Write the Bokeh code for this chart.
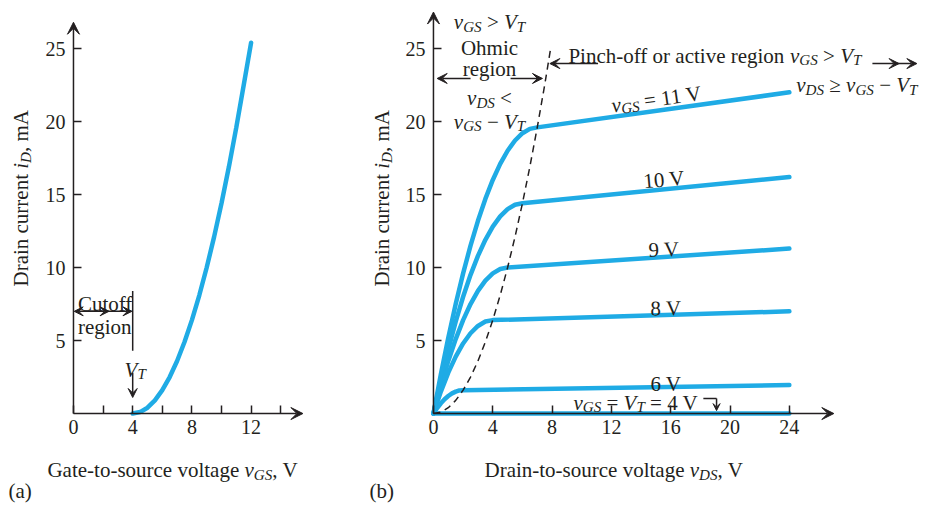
import math
from bokeh.plotting import figure
from bokeh.layouts import row
from bokeh.models import Range1d, FixedTicker, Label, Arrow, VeeHead
from bokeh.embed import file_html
from bokeh.resources import INLINE

# ---------------- data ----------------
# (a) transfer characteristic
vgs_transfer = [4, 4.5, 5, 5.5, 6, 6.5, 7, 7.5, 8, 8.5, 9, 9.5, 10, 10.5, 11, 11.5, 12]
id_transfer = [0, 0.1, 0.4, 0.9, 1.6, 2.5, 3.6, 4.9, 6.4, 8.1, 10.0, 12.1, 14.4, 16.9, 19.6, 22.5, 25.4]

# (b) output characteristics
vds_11 = [0, 0.5, 1, 1.5, 2, 2.5, 3, 3.5, 4, 4.5, 5, 5.5, 6, 6.5, 7, 24]
id_11 = [0, 2.7, 5.2, 7.5, 9.6, 11.5, 13.2, 14.7, 16.0, 17.1, 18.0, 18.7, 19.2, 19.5, 19.6, 22.0]
vds_10 = [0, 0.5, 1, 1.5, 2, 2.5, 3, 3.5, 4, 4.5, 5, 5.5, 6, 24]
id_10 = [0, 2.3, 4.4, 6.3, 8.0, 9.5, 10.8, 11.9, 12.8, 13.5, 14.0, 14.3, 14.4, 16.2]
vds_9 = [0, 0.5, 1, 1.5, 2, 2.5, 3, 3.5, 4, 4.5, 5, 24]
id_9 = [0, 1.9, 3.6, 5.1, 6.4, 7.5, 8.4, 9.1, 9.6, 9.9, 10.0, 11.3]
vds_8 = [0, 0.5, 1, 1.5, 2, 2.5, 3, 3.5, 4, 24]
id_8 = [0, 1.5, 2.8, 3.9, 4.8, 5.5, 6.0, 6.3, 6.4, 7.0]
vds_6 = [0, 0.25, 0.5, 0.75, 1, 1.25, 1.5, 1.75, 2, 24]
id_6 = [0, 0.38, 0.7, 0.98, 1.2, 1.38, 1.5, 1.58, 1.6, 1.95]
vds_4 = [0, 24]
id_4 = [0, 0]
vds_edge = [0, 0.5, 1, 1.5, 2, 2.5, 3, 3.5, 4, 4.5, 5, 5.5, 6, 6.5, 7, 7.5, 7.9]
id_edge = [0, 0.1, 0.4, 0.9, 1.6, 2.5, 3.6, 4.9, 6.4, 8.1, 10.0, 12.1, 14.4, 16.9, 19.6, 22.5, 25.0]

# ticks
xticks_a = [0, 4, 8, 12]
xminor_a = [2, 6, 10, 14]
xticks_b = [0, 4, 8, 12, 16, 20, 24]
yticks = [5, 10, 15, 20, 25]

# ---------------- styling ----------------
INK = "#231f20"
BLUE = "#1fabe5"
FONT = "Liberation Serif"
FS = 21
TICK_FS = "20px"

# Times metrics (per 1000 em) used to lay out mixed italic / subscript text
W_R = {' ': 250, ',': 250, '-': 333, '(': 333, ')': 333, '<': 564, '>': 564, '=': 564,
       '\u2265': 549, '\u2212': 564, '0': 500, '1': 500, '2': 500, '3': 500, '4': 500,
       '5': 500, '6': 500, '7': 500, '8': 500, '9': 500,
       'A': 722, 'C': 667, 'D': 722, 'G': 722, 'O': 722, 'P': 556, 'V': 722, 'T': 611,
       'a': 444, 'b': 500, 'c': 444, 'e': 444, 'f': 333, 'g': 500, 'h': 500, 'i': 278,
       'l': 278, 'm': 778, 'n': 500, 'o': 500, 'r': 333, 's': 389, 't': 278, 'u': 500,
       'v': 500}
W_I = {'v': 444, 'i': 278, 'G': 722, 'S': 500, 'D': 722, 'T': 556, 'V': 611, ' ': 250}
SUB = 0.72


def tw(s, kind):
    table = W_I if kind in ('i', 's') else W_R
    return sum(table.get(c, 500) for c in s) / 1000.0


def rich(p, x, y, parts, size=FS, angle=0.0, align='left'):
    widths = []
    for t, k in parts:
        fs = size * SUB if k == 's' else size
        widths.append(tw(t, k) * fs)
    total = sum(widths)
    d = {'left': 0.0, 'center': -total / 2.0, 'right': -total}[align]
    ca, sa = math.cos(angle), math.sin(angle)
    for (t, k), w in zip(parts, widths):
        fs = size * SUB if k == 's' else size
        lead = len(t) - len(t.lstrip(' '))
        dd = d + lead * 0.25 * fs
        drop = 0.22 * size if k == 's' else 0.0
        ox = dd * ca + drop * sa
        oy = dd * sa - drop * ca
        txt = t.strip(' ')
        if txt:
            p.add_layout(Label(x=x, y=y, x_offset=ox, y_offset=oy, text=txt, angle=angle,
                               text_font=FONT, text_font_size=f"{fs:.1f}px",
                               text_font_style='italic' if k in ('i', 's') else 'normal',
                               text_color=INK, text_baseline='alphabetic', text_align='left'))
        d += w


def arrow(p, x0, y0, x1, y1, size=10, width=1.5):
    p.add_layout(Arrow(x_start=x0, y_start=y0, x_end=x1, y_end=y1, line_color=INK,
                       line_width=width,
                       end=VeeHead(size=size, fill_color=INK, line_color=INK, line_width=1)))


def make_fig(width, x0, x1, xt, xm):
    p = figure(width=width, height=504, x_range=Range1d(x0, x1), y_range=Range1d(-6.23, 28.29),
               output_backend="svg", toolbar_location=None, min_border=0)
    p.outline_line_color = None
    p.grid.visible = False
    p.border_fill_color = "white"
    p.background_fill_color = "white"
    for ax in (p.xaxis[0], p.yaxis[0]):
        ax.fixed_location = 0
        ax.axis_line_color = None
        ax.major_tick_in = 8
        ax.major_tick_out = 0
        ax.minor_tick_in = 8
        ax.minor_tick_out = 0
        ax.major_tick_line_color = INK
        ax.minor_tick_line_color = INK
        ax.major_tick_line_width = 1.5
        ax.minor_tick_line_width = 1.5
        ax.major_label_text_font = FONT
        ax.major_label_text_font_size = TICK_FS
        ax.major_label_text_color = INK
    p.xaxis.ticker = FixedTicker(ticks=xt, minor_ticks=xm)
    p.yaxis.ticker = FixedTicker(ticks=yticks, minor_ticks=[])
    p.xaxis.major_label_standoff = 6
    p.yaxis.major_label_standoff = 8
    return p


# ---------------- panel (a) ----------------
pa = make_fig(360, -4.93, 19.39, xticks_a, xminor_a)
pa.line(vgs_transfer, id_transfer, line_color=BLUE, line_width=4.5, line_cap="round")
arrow(pa, 0, 0, 0, 26.8, size=12)
arrow(pa, 0, 0, 15.5, 0, size=12)

# cutoff region annotation
pa.segment(x0=[4], y0=[4.3], x1=[4], y1=[8.4], line_color=INK, line_width=1.5)
arrow(pa, 2.0, 7.0, 0.05, 7.0, size=9)
arrow(pa, 1.0, 7.0, 2.4, 7.0, size=9)
arrow(pa, 2.3, 7.0, 3.95, 7.0, size=9)
rich(pa, 0.3, 7.5, [("Cutoff", 'r')])
rich(pa, 0.3, 5.9, [("region", 'r')])
rich(pa, 3.45, 3.0, [("V", 'i'), ("T", 's')])
arrow(pa, 4, 2.8, 4, 1.1, size=9)

rich(pa, -3.55, 8.7, [("Drain current ", 'r'), ("i", 'i'), ("D", 's'), (", mA", 'r')],
     angle=math.pi / 2)
rich(pa, -1.76, -3.9, [("Gate-to-source voltage ", 'r'), ("v", 'i'), ("GS", 's'), (", V", 'r')])
rich(pa, -4.39, -5.3, [("(a)", 'r')])

# ---------------- panel (b) ----------------
pb = make_fig(565, -4.92, 33.18, xticks_b, [])
for vx, iy in ((vds_4, id_4), (vds_6, id_6), (vds_8, id_8), (vds_9, id_9),
               (vds_10, id_10), (vds_11, id_11)):
    pb.line(vx, iy, line_color=BLUE, line_width=4.5, line_cap="round", line_join="round")
pb.line(vds_edge, id_edge, line_color=INK, line_width=1.5, line_dash="7 5")
arrow(pb, 0, 0, 0, 27.5, size=12)
arrow(pb, 0, 0, 27.0, 0, size=12)

# curve labels
rich(pb, 12.0, 21.1, [("v", 'i'), ("GS", 's'), (" = 11 V", 'r')], angle=0.14)
rich(pb, 14.16, 15.9, [("10 V", 'r')], angle=0.09)
rich(pb, 14.5, 11.2, [("9 V", 'r')], angle=0.035)
rich(pb, 14.63, 7.19, [("8 V", 'r')], angle=0.015)
rich(pb, 14.63, 2.05, [("6 V", 'r')])
rich(pb, 9.44, 0.75, [("v", 'i'), ("GS", 's'), (" = ", 'r'), ("V", 'i'), ("T", 's'),
                      (" = 4 V", 'r')])
pb.line([18.2, 19.09], [1.03, 1.03], line_color=INK, line_width=1.5)
arrow(pb, 19.09, 1.03, 19.09, 0.2, size=7, width=1.5)

# ohmic region
rich(pb, 3.78, 26.8, [("v", 'i'), ("GS", 's'), (" > ", 'r'), ("V", 'i'), ("T", 's')],
     align='center')
rich(pb, 3.78, 25.07, [("Ohmic", 'r')], align='center')
rich(pb, 3.78, 23.6, [("region", 'r')], align='center')
rich(pb, 3.78, 21.6, [("v", 'i'), ("DS", 's'), (" <", 'r')], align='center')
rich(pb, 3.78, 20.0, [("v", 'i'), ("GS", 's'), (" \u2212 ", 'r'), ("V", 'i'), ("T", 's')],
     align='center')
arrow(pb, 2.5, 22.95, 0.25, 22.95, size=10)
arrow(pb, 5.2, 22.95, 7.35, 22.95, size=10)

# active region
rich(pb, 9.1, 24.5, [("Pinch-off or active region ", 'r'), ("v", 'i'), ("GS", 's'),
                     (" > ", 'r'), ("V", 'i'), ("T", 's')])
arrow(pb, 11.1, 23.97, 7.85, 23.97, size=10)
arrow(pb, 29.6, 23.97, 31.4, 23.97, size=10)
arrow(pb, 31.2, 23.97, 32.6, 23.97, size=10)
rich(pb, 32.64, 22.47, [("v", 'i'), ("DS", 's'), (" \u2265 ", 'r'), ("v", 'i'), ("GS", 's'),
                        (" \u2212 ", 'r'), ("V", 'i'), ("T", 's')], align='right')

rich(pb, -3.45, 8.7, [("Drain current ", 'r'), ("i", 'i'), ("D", 's'), (", mA", 'r')],
     angle=math.pi / 2)
rich(pb, 3.44, -3.9, [("Drain-to-source voltage ", 'r'), ("v", 'i'), ("DS", 's'), (", V", 'r')])
rich(pb, -4.32, -5.3, [("(b)", 'r')])

layout = row(pa, pb)
open("out.html", "w").write(file_html(layout, INLINE))
